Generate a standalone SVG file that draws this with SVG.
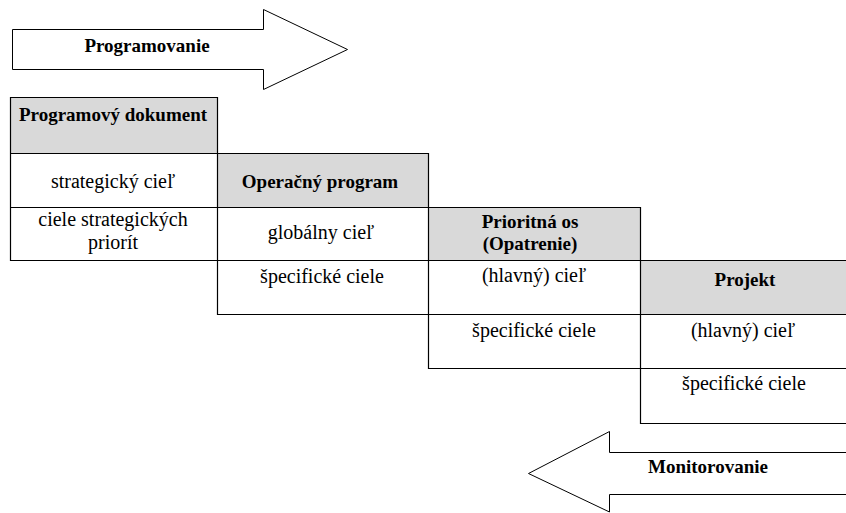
<svg xmlns="http://www.w3.org/2000/svg" width="846" height="513" viewBox="0 0 846 513">
<style>
.bg{fill:#ffffff}
.hdr{fill:#d9d9d9;stroke:none}
.grid{fill:none;stroke:#000;stroke-width:1.2}
.arrow{fill:#ffffff;stroke:#000;stroke-width:1}
text{font-family:'Liberation Serif','Times New Roman',Times,'DejaVu Serif',serif;fill:#000}
.b{font-weight:bold;font-size:19px}
.r{font-weight:normal;font-size:20px}
.c{text-anchor:middle}
</style>
<rect class="bg" x="0" y="0" width="846" height="513"/>
<g id="arrow-programovanie">
<polygon class="arrow" points="12.5,29.5 263.5,29.5 263.5,9.5 347.5,49.5 263.5,89.5 263.5,69.5 12.5,69.5"/>
<text class="b c" x="147" y="52">Programovanie</text>
</g>
<g id="arrow-monitorovanie">
<polygon class="arrow" points="847,452.5 609.5,452.5 609.5,431.5 528.5,473.5 609.5,512 609.5,494.5 847,494.5"/>
<text class="b c" x="708" y="473">Monitorovanie</text>
</g>
<g id="header-fills">
<rect class="hdr" x="10.5" y="97.5" width="207" height="56"/>
<rect class="hdr" x="217.5" y="153.5" width="211" height="54"/>
<rect class="hdr" x="428.5" y="207.5" width="212" height="53"/>
<rect class="hdr" x="640.5" y="260.5" width="206" height="54"/>
</g>
<g id="connectors">
<path class="grid" d="M10,97.5H218 M10,153.5H429 M10,207.5H641 M10,260.5H846 M217,314.5H846 M428,368.5H846 M640,423.5H846 M10.5,97V261 M217.5,97V315 M428.5,153V369 M640.5,207V424"/>
</g>
<g id="programovy-dokument">
<text class="b c" x="113" y="121">Programový dokument</text>
<text class="r c" x="113" y="188">strategický cieľ</text>
<text class="r c" x="113" y="226">ciele strategických</text>
<text class="r c" x="113" y="249">priorít</text>
</g>
<g id="operacny-program">
<text class="b c" x="320" y="188">Operačný program</text>
<text class="r c" x="321" y="239">globálny cieľ</text>
<text class="r c" x="322" y="283">špecifické ciele</text>
</g>
<g id="prioritna-os">
<text class="b c" x="530" y="228">Prioritná os</text>
<text class="b c" x="530" y="250">(Opatrenie)</text>
<text class="r c" x="534" y="282">(hlavný) cieľ</text>
<text class="r c" x="534" y="337">špecifické ciele</text>
</g>
<g id="projekt">
<text class="b c" x="745" y="286">Projekt</text>
<text class="r c" x="743" y="337">(hlavný) cieľ</text>
<text class="r c" x="744" y="390">špecifické ciele</text>
</g>
</svg>
